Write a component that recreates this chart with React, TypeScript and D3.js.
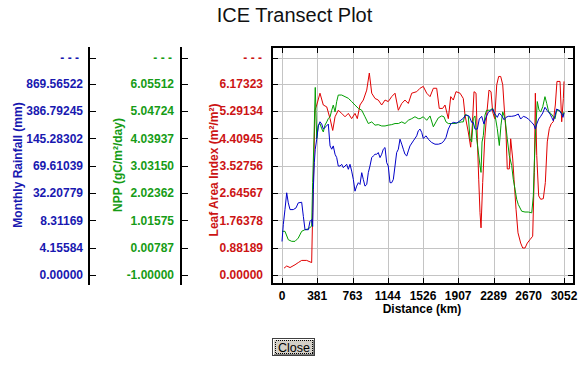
import { line, scaleLinear } from 'd3';

// ICE transect plot: three series over distance, each with its own left axis.

const distTicks = [0, 381, 763, 1144, 1526, 1907, 2289, 2670, 3052];
const rainTicks = [0, 4.15584, 8.31169, 32.20779, 69.61039, 145.28302, 386.79245, 869.56522];
const nppTicks = [-1.0, 0.00787, 1.01575, 2.02362, 3.0315, 4.03937, 5.04724, 6.05512];
const laiTicks = [0, 0.88189, 1.76378, 2.64567, 3.52756, 4.40945, 5.29134, 6.17323];

// [distance km, monthly rainfall mm]
const rainfall: [number, number][] = [
  [0, 5.09], [14, 7.64], [32, 17.65], [51, 32.4], [68, 23.53], [87, 17.65], [122, 17.65], [152, 19.14],
  [176, 23.53], [213, 24.06], [231, 11.75], [249, 6.88], [285, 6.88], [303, 8.15], [321, 8.86], [332, 7.38],
  [339, 36.92], [350, 77.78], [360, 114.8], [376, 142.6], [393, 254.9], [411, 290.4], [430, 270.1], [447, 225.7],
  [465, 240.7], [484, 254.9], [501, 270.1], [520, 124.0], [538, 114.8], [555, 124.0], [574, 100.9], [592, 91.7],
  [609, 69.0], [628, 69.0], [646, 73.1], [663, 66.8], [682, 69.0], [700, 73.1], [718, 64.5], [736, 73.1],
  [754, 62.1], [772, 50.7], [790, 34.6], [808, 41.5], [826, 46.2], [844, 43.8], [863, 59.9], [880, 50.7],
  [898, 41.5], [917, 43.8], [934, 59.9], [952, 69.0], [971, 91.7], [988, 96.2], [1007, 100.9], [1025, 100.9],
  [1042, 105.6], [1061, 91.7], [1079, 100.9], [1096, 114.8], [1115, 119.5], [1133, 77.8], [1150, 69.0], [1169, 46.2],
  [1187, 46.2], [1205, 50.7], [1223, 69.0], [1241, 105.6], [1259, 114.8], [1277, 142.6], [1296, 128.7], [1313, 114.8],
  [1331, 100.9], [1350, 96.2], [1367, 110.1], [1385, 124.0], [1421, 137.9], [1458, 166.1], [1475, 210.5], [1494, 225.7],
  [1512, 196.3], [1529, 144.6], [1559, 166.1], [1583, 142.6], [1620, 133.5], [1656, 128.7], [1692, 128.7], [1728, 131.5],
  [1753, 137.9], [1775, 152.0], [1800, 225.7], [1826, 270.1], [1854, 285.1], [1891, 278.8], [1927, 299.4], [1962, 320.6],
  [1981, 343.8], [1999, 350.1], [2027, 338.5], [2053, 285.1], [2070, 285.1], [2089, 225.7], [2114, 225.7], [2135, 314.6],
  [2161, 338.5], [2186, 270.1], [2208, 329.5], [2233, 374.0], [2259, 389.7], [2280, 419.6], [2305, 359.0], [2330, 329.5],
  [2352, 367.7], [2378, 343.8], [2403, 308.3], [2424, 329.5], [2449, 338.5], [2486, 338.5], [2522, 343.8], [2557, 359.0],
  [2583, 314.6], [2612, 338.5], [2641, 329.5], [2666, 314.6], [2703, 285.1], [2727, 261.2], [2742, 225.7], [2757, 270.1],
  [2778, 314.6], [2800, 338.5], [2822, 367.7], [2846, 450.0], [2871, 389.7], [2901, 359.0], [2919, 329.5], [2936, 299.4],
  [2955, 343.8], [2973, 419.6], [3002, 389.7], [3027, 359.0], [3041, 329.5], [3052, 367.7],
];

// [distance km, NPP gC/m2/day]
const npp: [number, number][] = [
  [0, 0.61], [32, 0.61], [68, 0.3], [105, 0.24], [141, 0.24], [176, 0.36], [213, 0.61], [249, 0.67],
  [285, 0.7], [321, 0.8], [332, 2.41], [346, 4.02], [360, 5.91], [376, 4.02], [393, 4.52], [411, 4.58],
  [430, 4.39], [447, 4.27], [465, 4.52], [484, 4.64], [501, 4.76], [520, 4.83], [538, 5.07], [555, 5.26],
  [574, 5.01], [592, 5.39], [609, 5.63], [646, 5.63], [682, 5.57], [718, 5.51], [754, 5.39], [790, 5.26],
  [826, 5.14], [863, 5.07], [898, 4.83], [934, 4.58], [971, 4.64], [1007, 4.52], [1042, 4.54], [1079, 4.49],
  [1115, 4.49], [1150, 4.52], [1187, 4.54], [1223, 4.58], [1259, 4.58], [1296, 4.64], [1331, 4.58], [1367, 4.7],
  [1404, 4.76], [1439, 4.83], [1475, 4.76], [1494, 4.76], [1529, 4.83], [1566, 4.7], [1602, 4.86], [1638, 4.46],
  [1667, 4.64], [1692, 4.79], [1728, 4.86], [1753, 4.83], [1775, 4.64], [1800, 4.58], [1837, 4.58], [1872, 4.58],
  [1908, 4.62], [1945, 4.64], [1962, 4.64], [1981, 4.91], [2016, 4.86], [2035, 4.02], [2053, 3.9], [2070, 4.76],
  [2089, 4.86], [2107, 4.02], [2125, 3.53], [2143, 3.03], [2154, 2.78], [2165, 3.9], [2179, 4.14], [2197, 4.89],
  [2215, 5.07], [2251, 5.07], [2280, 5.14], [2305, 4.89], [2330, 4.39], [2352, 3.77], [2370, 4.52], [2389, 5.01],
  [2414, 4.76], [2438, 4.02], [2460, 3.4], [2486, 3.03], [2503, 2.53], [2522, 2.16], [2540, 1.79], [2557, 1.6],
  [2594, 1.35], [2630, 1.32], [2666, 1.32], [2703, 1.29], [2720, 1.91], [2731, 3.15], [2746, 4.39], [2763, 5.39],
  [2782, 5.07], [2800, 5.01], [2822, 5.2], [2846, 5.57], [2865, 5.32], [2886, 5.01], [2911, 4.95], [2936, 4.83],
  [2955, 4.76], [2973, 5.07], [3002, 5.07], [3027, 4.95], [3045, 4.89], [3052, 5.01],
];

// [distance km, leaf area index m2/m2]
const lai: [number, number][] = [
  [22, 0.22], [51, 0.29], [87, 0.24], [141, 0.33], [176, 0.4], [213, 0.47], [267, 0.47], [321, 0.4],
  [332, 2.02], [357, 5.31], [376, 5.48], [411, 5.86], [447, 5.48], [484, 5.42], [520, 5.04], [549, 4.66],
  [574, 5.1], [609, 5.31], [646, 5.21], [682, 5.1], [718, 5.21], [754, 5.04], [790, 5.21], [815, 5.04],
  [844, 5.48], [880, 5.64], [917, 5.96], [945, 6.51], [971, 5.86], [1007, 5.69], [1042, 5.64], [1079, 5.48],
  [1115, 5.64], [1150, 5.59], [1187, 5.75], [1223, 5.86], [1259, 5.31], [1296, 5.53], [1331, 5.64], [1367, 5.53],
  [1404, 5.86], [1458, 5.91], [1494, 6.02], [1529, 6.08], [1566, 5.86], [1602, 5.75], [1638, 6.02], [1674, 6.02],
  [1702, 5.37], [1739, 5.37], [1764, 5.48], [1800, 5.04], [1826, 5.75], [1854, 5.64], [1883, 5.91], [1927, 5.86],
  [1962, 5.69], [1981, 5.15], [2016, 4.61], [2042, 4.12], [2060, 4.83], [2078, 5.91], [2100, 5.86], [2114, 4.39],
  [2129, 3.09], [2143, 2.01], [2154, 1.52], [2172, 2.98], [2194, 4.39], [2215, 5.15], [2240, 5.96], [2262, 5.91],
  [2280, 5.26], [2302, 5.04], [2324, 6.13], [2345, 6.4], [2367, 6.4], [2389, 6.13], [2403, 5.48], [2424, 4.61],
  [2438, 3.42], [2460, 3.42], [2475, 4.39], [2497, 3.74], [2511, 3.09], [2533, 2.12], [2554, 1.36], [2583, 1.03],
  [2605, 0.87], [2630, 0.87], [2655, 1.03], [2684, 1.14], [2713, 1.25], [2731, 3.31], [2742, 5.86], [2757, 3.85],
  [2778, 2.55], [2800, 2.44], [2828, 2.46], [2850, 2.98], [2871, 4.29], [2893, 4.72], [2915, 4.88], [2936, 4.94],
  [2958, 5.48], [2976, 6.24], [3009, 6.24], [3027, 4.94], [3045, 5.69], [3052, 6.24],
];

const BLUE = '#1818b0';
const GREEN = '#169c16';
const RED = '#cc1414';
const FONT = 'Arial, "Liberation Sans", sans-serif';

const box = { left: 271.75, top: 47, right: 573.75, bottom: 284 };
const yTop = 58; // the "- - -" row above the last tick

export default function App() {
  const x = scaleLinear().domain([0, 3052]).range([282, 564]);
  const yIdx = scaleLinear().domain([0, 7]).range([275, 83.5]);
  const yRain = scaleLinear().domain(rainTicks).range(rainTicks.map((_, i) => yIdx(i)));
  const yNpp = scaleLinear().domain([nppTicks[0], nppTicks[7]]).range([yIdx(0), yIdx(7)]);
  const yLai = scaleLinear().domain([laiTicks[0], laiTicks[7]]).range([yIdx(0), yIdx(7)]);

  const rows = [...laiTicks.map((_, i) => Math.round(yIdx(i)) + 0.5), yTop + 0.5];

  const path = (ys: (v: number) => number) =>
    line<[number, number]>()
      .x((d) => x(d[0]))
      .y((d) => ys(d[1]));

  const axes = [
    { ticks: rainTicks, color: BLUE, lineX: 89, labelX: 83, dashX: 79, title: 'Monthly Rainfall  (mm)', tx: 17.5, ty: 165 },
    { ticks: nppTicks, color: GREEN, lineX: 181, labelX: 174, dashX: 172, title: 'NPP  (gC/m²/day)', tx: 117.5, ty: 165 },
    { ticks: laiTicks, color: RED, lineX: 0, labelX: 263, dashX: 262, title: 'Leaf Area Index  (m²/m²)', tx: 214, ty: 170 },
  ];

  return (
    <svg width={587} height={365} style={{ position: 'absolute', left: 0, top: 0, background: '#fff' }} fontFamily={FONT}>
      <defs>
        <clipPath id="plot">
          <rect x={box.left} y={box.top} width={box.right - box.left} height={box.bottom - box.top} />
        </clipPath>
      </defs>

      <text x={294.5} y={21.5} textAnchor="middle" fontSize={20} fill="#111">
        ICE Transect Plot
      </text>

      {/* grid */}
      <g stroke="#c4c4c4" strokeWidth={1} shapeRendering="crispEdges">
        {rows.map((r) => (
          <line key={r} x1={box.left} x2={box.right} y1={r} y2={r} />
        ))}
        {distTicks.map((d) => (
          <line key={d} x1={Math.round(x(d)) + 0.5} x2={Math.round(x(d)) + 0.5} y1={box.top} y2={box.bottom} />
        ))}
      </g>

      {/* series */}
      <g clipPath="url(#plot)" fill="none" strokeWidth={1}>
        <path d={path(yLai)(lai) ?? undefined} stroke="#e00000" />
        <path d={path(yNpp)(npp) ?? undefined} stroke="#009e00" />
        <path d={path(yRain)(rainfall) ?? undefined} stroke="#0000c8" />
      </g>

      {/* plot frame and inside ticks */}
      <g stroke="#000" shapeRendering="crispEdges">
        <rect x={box.left} y={box.top} width={box.right - box.left} height={box.bottom - box.top} fill="none" strokeWidth={2} />
        {rows.map((r) => (
          <g key={r} strokeWidth={1.5}>
            <line x1={box.left} x2={box.left + 6} y1={r} y2={r} />
            <line x1={box.right - 6} x2={box.right} y1={r} y2={r} />
          </g>
        ))}
        {distTicks.map((d) => (
          <g key={d} strokeWidth={1.5}>
            <line x1={Math.round(x(d)) + 0.5} x2={Math.round(x(d)) + 0.5} y1={box.bottom - 6} y2={box.bottom} />
            <line x1={Math.round(x(d)) + 0.5} x2={Math.round(x(d)) + 0.5} y1={box.top} y2={box.top + 6} />
          </g>
        ))}
      </g>

      {/* left axes */}
      {axes.map((a) => (
        <g key={a.title}>
          {a.lineX > 0 && (
            <g stroke="#000" shapeRendering="crispEdges">
              <line x1={a.lineX} x2={a.lineX} y1={box.top} y2={box.bottom + 1} strokeWidth={2} />
              {rows.map((r) => (
                <line key={r} x1={a.lineX} x2={a.lineX + 7} y1={r} y2={r} strokeWidth={1.5} />
              ))}
            </g>
          )}
          <g fill={a.color} fontSize={12} fontWeight="bold" textAnchor="end">
            {a.ticks.map((t, i) => (
              <text key={i} x={a.labelX} y={yIdx(i)} dy="0.36em">
                {t.toFixed(5)}
              </text>
            ))}
            <text x={a.dashX} y={yTop} dy="0.36em">
              - - -
            </text>
          </g>
          <text
            transform={`translate(${a.tx},${a.ty}) rotate(-90)`}
            textAnchor="middle"
            dy="0.36em"
            fill={a.color}
            fontSize={12}
            fontWeight="bold"
          >
            {a.title}
          </text>
        </g>
      ))}

      {/* x axis labels */}
      <g fontSize={12} fontWeight="bold" fill="#000" textAnchor="middle">
        {distTicks.map((d) => (
          <text key={d} x={x(d)} y={300}>
            {d}
          </text>
        ))}
        <text x={422} y={313}>
          Distance (km)
        </text>
      </g>

      {/* Close button */}
      <g shapeRendering="crispEdges">
        <rect x={272.5} y={338.5} width={42} height={17} fill="#d4d0c8" stroke="#404040" />
        <path d="M273.5,354.5 V339.5 H313.5" fill="none" stroke="#fff" />
        <path d="M273.5,354.5 H313.5 V339.5" fill="none" stroke="#808080" />
        <rect x={275.5} y={340.5} width={37} height={13} fill="none" stroke="#000" strokeDasharray="1,1" />
      </g>
      <text x={294} y={351.5} textAnchor="middle" fontSize={12.5} fill="#000">
        Close
      </text>
    </svg>
  );
}
